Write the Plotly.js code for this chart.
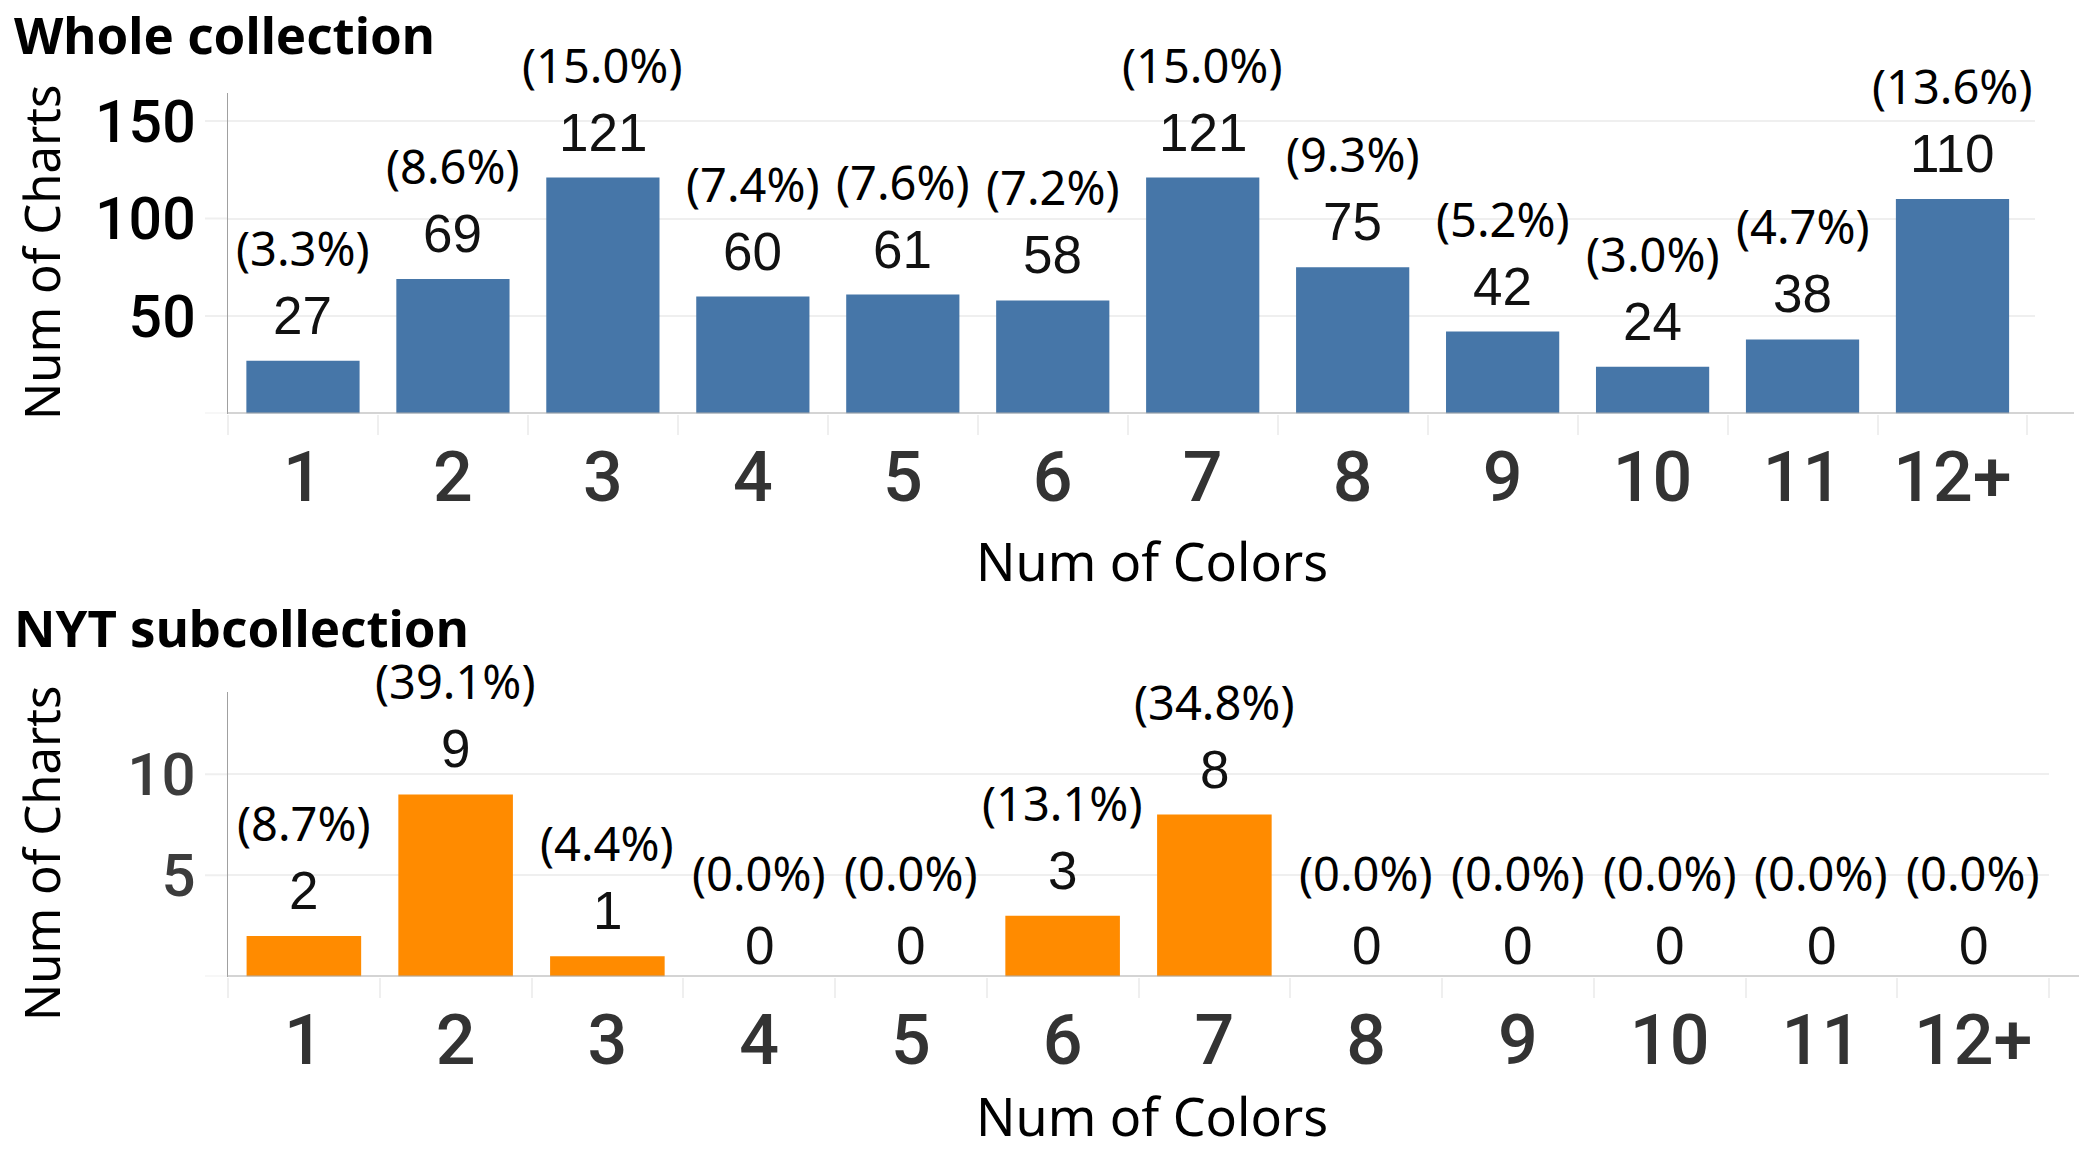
<!DOCTYPE html>
<html>
<head>
<meta charset="utf-8">
<script src="https://cdn.plot.ly/plotly-3.0.1.min.js"></script>
<style>
  html, body { margin: 0; padding: 0; background: #fff; }
  #chart { width: 2086px; height: 1152px; }
</style>
</head>
<body>
<div id="chart"></div>
<script>
// Number of distinct colours used in a chart
const colorCounts = ['1', '2', '3', '4', '5', '6', '7', '8', '9', '10', '11', '12+'];

// Whole collection: number of charts and share of the collection
const wholeCharts = [27, 69, 121, 60, 61, 58, 121, 75, 42, 24, 38, 110];
const wholeShares = ['3.3%', '8.6%', '15.0%', '7.4%', '7.6%', '7.2%', '15.0%', '9.3%', '5.2%', '3.0%', '4.7%', '13.6%'];

// NYT subcollection: number of charts and share of the subcollection
const nytCharts = [2, 9, 1, 0, 0, 3, 8, 0, 0, 0, 0, 0];
const nytShares = ['8.7%', '39.1%', '4.4%', '0.0%', '0.0%', '13.1%', '34.8%', '0.0%', '0.0%', '0.0%', '0.0%', '0.0%'];

// Value-axis ticks
const wholeTicks = [50, 100, 150];
const nytTicks = [5, 10];

const W = 2086, H = 1152;
const px = x => x / W;          // pixel column -> paper x
const py = y => 1 - y / H;      // pixel row -> paper y

const BLUE = '#4676a8';
const ORANGE = '#ff8b00';
const GRID = '#efefef';
const COUNT_FONT = { family: 'Liberation Sans, Arial, sans-serif', size: 53, color: '#111' };
const SHARE_FONT = { family: 'Noto Sans, sans-serif', size: 47, color: '#000' };
const TITLE_FONT = { family: 'Noto Sans, sans-serif', size: 51, color: '#000', weight: 'bold' };
const AXIS_TITLE_FONT = { family: 'Noto Sans, sans-serif', size: 50, color: '#000' };
const TICK_FAMILY = 'Roboto, Liberation Sans, sans-serif';

// Two-line value labels above each bar: share on top, count below
function barLabels(xref, yref, counts, shares) {
  const out = [];
  counts.forEach((c, i) => {
    const base = { xref: xref, yref: yref, x: i, y: c, xanchor: 'center', yanchor: 'bottom', showarrow: false };
    out.push(Object.assign({}, base, { text: String(c), font: COUNT_FONT, yshift: c > 0 ? 14 : 0 }));
    out.push(Object.assign({}, base, { text: '(' + shares[i] + ')', font: SHARE_FONT, yshift: c > 0 ? 79 : 70 }));
  });
  return out;
}

// Short gridline stubs reaching into the tick-label gutter
function gutterStubs(yref, ticks) {
  return [0].concat(ticks).map(v => ({
    type: 'line', xref: 'paper', yref: yref, x0: px(205), x1: px(228), y0: v, y1: v,
    line: { color: GRID, width: 2 }, layer: 'below'
  }));
}

const traces = [
  { type: 'bar', x: colorCounts, y: wholeCharts, xaxis: 'x', yaxis: 'y',
    marker: { color: BLUE, line: { width: 0 } }, hoverinfo: 'skip' },
  { type: 'bar', x: colorCounts, y: nytCharts, xaxis: 'x2', yaxis: 'y2',
    marker: { color: ORANGE, line: { width: 0 } }, hoverinfo: 'skip' }
];

const xCommon = {
  type: 'category', categoryorder: 'array', categoryarray: colorCounts,
  tickson: 'boundaries', ticks: 'outside', ticklen: 20, tickwidth: 2, tickcolor: GRID,
  showline: false, showgrid: false, zeroline: false,
  tickfont: { family: TICK_FAMILY, size: 70, color: '#333', weight: 500 },
  ticklabelstandoff: 16, fixedrange: true
};
const yCommon = {
  showline: true, linecolor: '#a0a0a0', linewidth: 1.5, ticks: '',
  showgrid: true, gridcolor: GRID, gridwidth: 2, zeroline: false,
  ticklabelstandoff: 19, fixedrange: true
};

const layout = {
  width: W, height: H,
  margin: { l: 0, r: 0, t: 0, b: 0, pad: 0 },
  paper_bgcolor: '#fff', plot_bgcolor: '#fff',
  showlegend: false, bargap: 0.245,
  xaxis: Object.assign({}, xCommon, { domain: [px(228), px(2035)], anchor: 'y' }),
  yaxis: Object.assign({}, yCommon, {
    domain: [py(413.5), py(93)], range: [0, 164.4], anchor: 'x',
    tickvals: wholeTicks, ticktext: wholeTicks.map(String),
    tickfont: { family: TICK_FAMILY, size: 59, color: '#000', weight: 500 }
  }),
  xaxis2: Object.assign({}, xCommon, { domain: [px(228), px(2049)], anchor: 'y2' }),
  yaxis2: Object.assign({}, yCommon, {
    domain: [py(976.5), py(692)], range: [0, 14.06], anchor: 'x2',
    tickvals: nytTicks, ticktext: nytTicks.map(String),
    tickfont: { family: TICK_FAMILY, size: 60, color: '#3c3c3c', weight: 500 }
  }),
  shapes: [
    { type: 'line', xref: 'paper', yref: 'y', x0: px(227), x1: px(2074), y0: 0, y1: 0,
      line: { color: '#aaa', width: 2 } },
    { type: 'line', xref: 'paper', yref: 'y2', x0: px(227), x1: px(2079), y0: 0, y1: 0,
      line: { color: '#aaa', width: 2 } }
  ].concat(gutterStubs('y', wholeTicks), gutterStubs('y2', nytTicks)),
  annotations: [
    { xref: 'paper', yref: 'paper', x: px(12), y: py(34), xanchor: 'left', yanchor: 'middle',
      text: 'Whole collection', showarrow: false, font: TITLE_FONT },
    { xref: 'paper', yref: 'paper', x: px(12), y: py(627), xanchor: 'left', yanchor: 'middle',
      text: 'NYT subcollection', showarrow: false, font: TITLE_FONT },
    { xref: 'paper', yref: 'paper', x: px(41), y: py(253), xanchor: 'center', yanchor: 'middle',
      text: 'Num of Charts', textangle: -90, showarrow: false, font: Object.assign({}, AXIS_TITLE_FONT, { size: 49 }) },
    { xref: 'paper', yref: 'paper', x: px(41), y: py(854), xanchor: 'center', yanchor: 'middle',
      text: 'Num of Charts', textangle: -90, showarrow: false, font: Object.assign({}, AXIS_TITLE_FONT, { size: 49 }) },
    { xref: 'paper', yref: 'paper', x: px(1152), y: py(560), xanchor: 'center', yanchor: 'middle',
      text: 'Num of Colors', showarrow: false, font: Object.assign({}, AXIS_TITLE_FONT, { size: 52 }) },
    { xref: 'paper', yref: 'paper', x: px(1152), y: py(1115), xanchor: 'center', yanchor: 'middle',
      text: 'Num of Colors', showarrow: false, font: Object.assign({}, AXIS_TITLE_FONT, { size: 52 }) }
  ].concat(barLabels('x', 'y', wholeCharts, wholeShares), barLabels('x2', 'y2', nytCharts, nytShares))
};

Plotly.newPlot('chart', traces, layout, { staticPlot: true, displayModeBar: false });
</script>
</body>
</html>
